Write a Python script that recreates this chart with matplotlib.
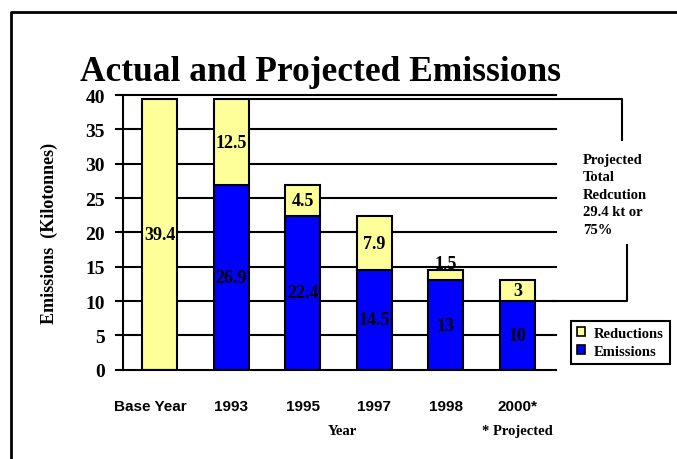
import matplotlib
matplotlib.use("Agg")
import matplotlib.pyplot as plt
from matplotlib.patches import Patch
from matplotlib.lines import Line2D
from matplotlib.transforms import ScaledTranslation

SERIF = "Liberation Serif"
SANS = "Liberation Sans"

years = ["Base Year", "1993", "1995", "1997", "1998", "2000*"]
base_value = 39.4
emissions = [26.9, 22.4, 14.5, 13, 10]      # 1993 .. 2000*
reductions = [12.5, 4.5, 7.9, 1.5, 3]       # 1993 .. 2000*
y_ticks = [0, 5, 10, 15, 20, 25, 30, 35, 40]
note_text = "Projected\nTotal\nRedcution\n29.4 kt or\n75%"

YELLOW = "#FFFF99"
BLUE = "#0000FF"

fig = plt.figure(figsize=(6.77, 4.60), dpi=100)
ax = fig.add_axes([0.1817, 0.1941, 0.6396, 0.5972])

# horizontal rules behind the bars
for y in y_ticks[1:]:
    ax.axhline(y, color="black", lw=1.5, zorder=0, clip_on=False)

width = 0.49
xs = list(range(len(years)))
ax.bar(xs[0], base_value, width=width, color=YELLOW, edgecolor="black", lw=1.5, zorder=2)
ax.bar(xs[1:], emissions, width=width, color=BLUE, edgecolor="black", lw=1.5, zorder=2)
ax.bar(xs[1:], reductions, width=width, bottom=emissions, color=YELLOW,
       edgecolor="black", lw=1.5, zorder=2)

lbl = dict(ha="center", va="center", fontsize=13, fontweight="bold",
           family=SERIF, zorder=3)
ax.text(xs[0], base_value / 2, f"{base_value:g}", **lbl)
for x, e, r in zip(xs[1:], emissions, reductions):
    ax.text(x, e / 2, f"{e:g}", **lbl)
    if r < 2:
        # too thin to hold its label, so it sits on the bar top
        ax.text(x, e + r - 0.3, f"{r:g}", **dict(lbl, va="bottom", zorder=1))
    else:
        ax.text(x, e + r / 2, f"{r:g}", **lbl)

ax.set_xlim(-0.51, 5.54)
ax.set_ylim(0, 40)
ax.set_yticks(y_ticks)
ax.set_yticklabels([str(t) for t in y_ticks], fontsize=14, fontweight="bold", family=SERIF)
ax.set_xticks(xs)
ax.set_xticklabels(years, fontsize=11, fontweight="bold", family=SANS)
ax.tick_params(axis="y", direction="out", length=6, width=1.5, pad=7)
ax.tick_params(axis="x", length=0, pad=21)
# nudge the long first category name left
first = ax.get_xticklabels()[0]
first.set_transform(first.get_transform() + ScaledTranslation(-0.09, 0, fig.dpi_scale_trans))
for side in ("top", "right"):
    ax.spines[side].set_visible(False)
ax.spines["left"].set_linewidth(1.5)
ax.spines["bottom"].set_linewidth(1.5)

ax.set_ylabel("Emissions  (Kilotonnes)", fontsize=13, fontweight="bold",
              family=SERIF, labelpad=20)
ax.text(2.55, -8.8, "Year", ha="center", va="center", fontsize=10.5,
        fontweight="bold", family=SERIF)
ax.text(5.0, -8.8, "* Projected", ha="center", va="center", fontsize=10.5,
        fontweight="bold", family=SERIF)

# bracket showing the projected total reduction
top = emissions[0] + reductions[0]
ax.plot([xs[1] + width / 2, 6.46, 6.46], [top, top, 33.4],
        color="black", lw=1.5, clip_on=False)
ax.plot([6.53, 6.53, 5.5], [18.1, emissions[-1], emissions[-1]],
        color="black", lw=1.5, clip_on=False)
ax.text(5.92, 31.6, note_text, ha="left", va="top", fontsize=10.5,
        fontweight="bold", family=SERIF, linespacing=1.45)

handles = [Patch(facecolor=YELLOW, edgecolor="black", lw=1.2, label="Reductions"),
           Patch(facecolor=BLUE, edgecolor="black", lw=1.2, label="Emissions")]
leg = fig.legend(handles=handles, loc="upper left", bbox_to_anchor=(0.843, 0.300),
                 bbox_transform=fig.transFigure, fancybox=False, framealpha=1,
                 edgecolor="black", handlelength=0.6, handleheight=0.6,
                 handletextpad=0.6, labelspacing=0.35, borderpad=0.4,
                 borderaxespad=0, prop={"family": SERIF, "weight": "bold", "size": 10.5})
leg.get_frame().set_linewidth(1.5)

fig.text(0.473, 0.843, "Actual and Projected Emissions", ha="center", va="center",
         fontsize=25.5, fontweight="bold", family=SERIF)

# page frame
fig.add_artist(Line2D([0.0162, 0.0162, 1.0], [0.0, 0.9717, 0.9717],
                      transform=fig.transFigure, color="black", lw=2))

fig.savefig("out.png", dpi=100)
